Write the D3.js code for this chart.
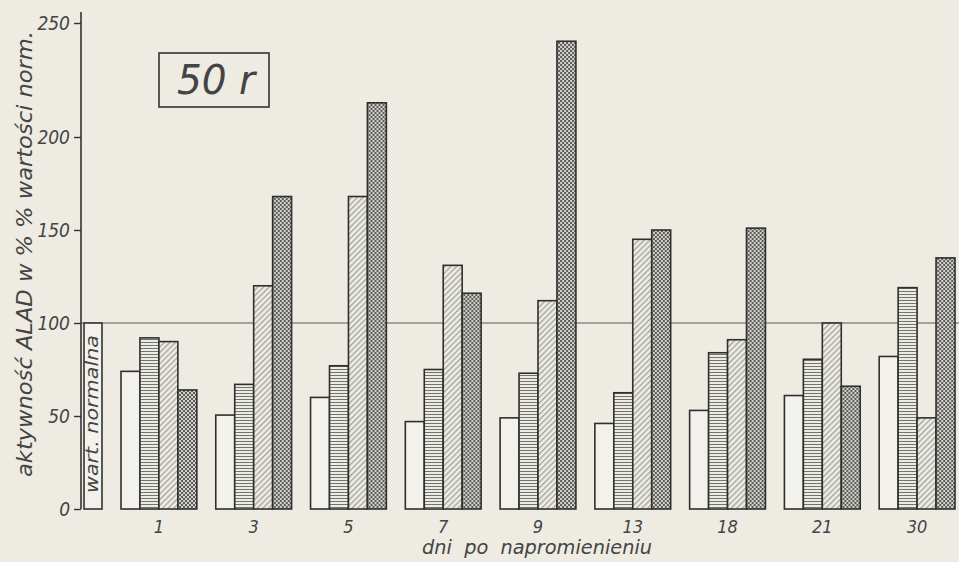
<!DOCTYPE html>
<html><head><meta charset="utf-8">
<script src="https://cdn.jsdelivr.net/npm/d3@7"></script>
<style>
html,body{margin:0;padding:0;background:#eeebe3;}
svg{display:block;}
text{font-family:"DejaVu Sans Condensed","DejaVu Sans",sans-serif;font-style:italic;fill:#444;}
</style></head>
<body>
<script>
// ---- data ----
const days = ["1","3","5","7","9","13","18","21","30"];
const seriesOpen   = [74, 50.5, 60, 47, 49, 46, 53, 61, 82];
const seriesHoriz  = [92, 67, 77, 75, 73, 62.5, 84, 80.5, 119];
const seriesDiag   = [90, 120, 168, 131, 112, 145, 91, 100, 49];
const seriesCross  = [64, 168, 215, 116, 242, 150, 151, 66, 135];
const normalValue = 100;
const yTicks = [0, 50, 100, 150, 200, 250];
const yTitle = "aktywność ALAD w % % wartości norm.";
const xTitle = "dni  po  napromienieniu";
const normalLabel = "wart. normalna";
const doseLabel = "50 r";

const W = 959, H = 562;
const svg = d3.select("body").append("svg").attr("width", W).attr("height", H);
svg.append("rect").attr("width", W).attr("height", H).attr("fill", "#eeebe3");

const defs = svg.append("defs");
// horizontal stripes
const ph = defs.append("pattern").attr("id","horiz").attr("patternUnits","userSpaceOnUse").attr("width",4).attr("height",3);
ph.append("rect").attr("width",4).attr("height",3).attr("fill","#ecebe4");
ph.append("rect").attr("width",4).attr("height",1).attr("fill","#737370");
// diagonal hatch
const pd = defs.append("pattern").attr("id","diag").attr("patternUnits","userSpaceOnUse").attr("width",4).attr("height",4).attr("patternTransform","rotate(45)");
pd.append("rect").attr("width",4).attr("height",4).attr("fill","#eeede6");
pd.append("rect").attr("width",1.3).attr("height",4).attr("fill","#a2a19b");
// cross / dotted checker
const pc = defs.append("pattern").attr("id","cross").attr("patternUnits","userSpaceOnUse").attr("width",4).attr("height",4);
pc.append("rect").attr("width",4).attr("height",4).attr("fill","#d2d1cb");
pc.append("rect").attr("x",0).attr("y",0).attr("width",2).attr("height",2).attr("fill","#5c5c59");
pc.append("rect").attr("x",2).attr("y",2).attr("width",2).attr("height",2).attr("fill","#5c5c59");

const axisX = 81;
const y = d3.scaleLinear().domain([0, 200, 250]).range([509, 137, 23]);
const x = d3.scaleBand().domain(days).range([121, 955]).paddingInner(0.2).paddingOuter(0);
const keys = [0,1,2,3];
const xs = d3.scaleBand().domain(keys).range([0, x.bandwidth()]);
const fills = ["#f2f1ec", "url(#horiz)", "url(#diag)", "url(#cross)"];
const series = [seriesOpen, seriesHoriz, seriesDiag, seriesCross];

// reference line at 100
svg.append("line").attr("x1", axisX).attr("x2", W).attr("y1", y(normalValue)).attr("y2", y(normalValue))
  .attr("stroke", "#5a5a58").attr("stroke-width", 1.1);

// normal bar
svg.append("rect").attr("x", axisX + 3).attr("y", y(normalValue)).attr("width", 18)
  .attr("height", y(0) - y(normalValue)).attr("fill", "#f2f1ec").attr("stroke", "#333").attr("stroke-width", 1.6);
svg.append("text").attr("transform", `translate(${axisX + 17},${414}) rotate(-90)`)
  .attr("text-anchor", "middle").attr("font-size", 17)
  .attr("textLength", 158).attr("lengthAdjust", "spacingAndGlyphs").text(normalLabel);

// bars
const groups = svg.append("g").selectAll("g").data(days).join("g")
  .attr("transform", d => `translate(${x(d)},0)`);
groups.selectAll("rect").data((d, i) => keys.map(k => ({k, v: series[k][i]}))).join("rect")
  .attr("x", d => xs(d.k)).attr("width", xs.bandwidth())
  .attr("y", d => y(d.v)).attr("height", d => y(0) - y(d.v))
  .attr("fill", d => fills[d.k]).attr("stroke", "#2f2f2f").attr("stroke-width", 1.6);

// y axis
const yAxis = d3.axisLeft(y).tickValues(yTicks).tickSize(7).tickPadding(4).tickFormat(d3.format("d"));
const ga = svg.append("g").attr("transform", `translate(${axisX},0)`).call(yAxis);
ga.select(".domain").remove();
ga.selectAll(".tick line").attr("stroke", "#333").attr("stroke-width", 1.4);
ga.selectAll(".tick text").attr("font-size", 19).attr("fill", "#444").attr("font-family", "DejaVu Sans").attr("dy", "0.35em");
svg.append("line").attr("x1", axisX).attr("x2", axisX).attr("y1", y(250) - 11).attr("y2", y(0))
  .attr("stroke", "#333").attr("stroke-width", 1.6);

// x labels
svg.append("g").selectAll("text").data(days).join("text")
  .attr("x", d => x(d) + x.bandwidth() / 2).attr("y", 533)
  .attr("text-anchor", "middle").attr("font-size", 18).attr("font-family", "DejaVu Sans").text(d => d);
svg.append("text").attr("x", 537).attr("y", 554).attr("text-anchor", "middle")
  .attr("font-size", 20).attr("style", "white-space:pre")
  .attr("textLength", 230).attr("lengthAdjust", "spacingAndGlyphs").text(xTitle);

// y title
svg.append("text").attr("transform", `translate(32,${254}) rotate(-90)`)
  .attr("text-anchor", "middle").attr("font-size", 21)
  .attr("textLength", 446).attr("lengthAdjust", "spacingAndGlyphs").text(yTitle);

// dose box
svg.append("rect").attr("x", 159).attr("y", 53).attr("width", 110).attr("height", 54)
  .attr("fill", "none").attr("stroke", "#333").attr("stroke-width", 1.6);
svg.append("text").attr("x", 216).attr("y", 94).attr("text-anchor", "middle")
  .attr("font-size", 40).attr("style", "white-space:pre")
  .attr("textLength", 78).attr("lengthAdjust", "spacingAndGlyphs").text(doseLabel);
</script>
</body></html>
